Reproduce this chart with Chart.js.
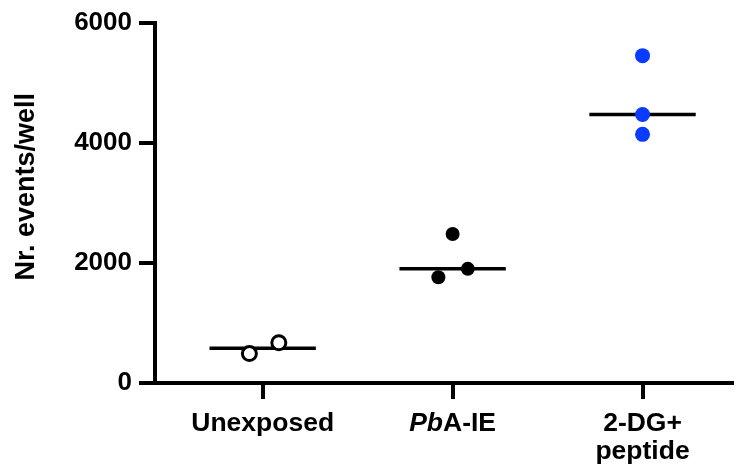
<!DOCTYPE html>
<html>
<head>
<meta charset="utf-8">
<script src="https://cdn.jsdelivr.net/npm/chart.js@4/dist/chart.umd.min.js"></script>
<style>
  body { margin: 0; background: #fff; }
</style>
</head>
<body>
<canvas id="dotChart" width="742" height="472"></canvas>
<script>
// categories and values
const categories = ["Unexposed", "PbA-IE", "2-DG+\npeptide"];
const italicPrefix = ["", "Pb", ""];
const yTicks = [0, 2000, 4000, 6000];
const yTitle = "Nr. events/well";

const unexposedValues = [490, 670];
const unexposedJitter = [-0.07, 0.085];
const pbaValues = [2480, 1760, 1900];
const pbaJitter = [0, -0.075, 0.08];
const dgValues = [5450, 4470, 4140];
const dgJitter = [0, 0, 0];

const FONT = "'Liberation Sans', Arial, sans-serif";
const LABEL_SIZE = 26;

function median(vals) {
  const s = [...vals].sort((a, b) => a - b);
  const m = Math.floor(s.length / 2);
  return s.length % 2 ? s[m] : (s[m - 1] + s[m]) / 2;
}

function toPoints(vals, jitter, idx) {
  return vals.map((v, i) => ({ x: idx + jitter[i], y: v }));
}

function medianLine(vals, idx) {
  const m = median(vals);
  return {
    type: "line",
    data: [{ x: idx - 0.28, y: m }, { x: idx + 0.28, y: m }],
    borderColor: "#000",
    borderWidth: 3.5,
    pointRadius: 0,
    order: 2,
  };
}

// x labels drawn by hand so "Pb" can be italic, plus the y title
const labelPlugin = {
  id: "labels",
  afterDraw(chart) {
    const xs = chart.scales.x;
    const ctx = chart.ctx;
    ctx.save();
    ctx.fillStyle = "#000";
    ctx.textBaseline = "alphabetic";
    ctx.textAlign = "left";
    const ital = "italic bold 26.5px " + FONT;
    const norm = "bold 26.5px " + FONT;
    categories.forEach((cat, i) => {
      const px = xs.getPixelForValue(i);
      cat.split("\n").forEach((line, j) => {
        const y = xs.top + 48 + j * 28;
        const pre = italicPrefix[i] && line.startsWith(italicPrefix[i]) ? italicPrefix[i] : "";
        const rest = line.slice(pre.length);
        ctx.font = ital;
        const w1 = pre ? ctx.measureText(pre).width : 0;
        ctx.font = norm;
        const w2 = ctx.measureText(rest).width;
        let x = px - (w1 + w2) / 2;
        if (pre) {
          ctx.font = ital;
          ctx.fillText(pre, x, y);
          x += w1;
        }
        ctx.font = norm;
        ctx.fillText(rest, x, y);
      });
    });

    // y axis title, sits a little above the plot centre
    const area = chart.chartArea;
    ctx.translate(34, (area.top + area.bottom) / 2 - 16);
    ctx.rotate(-Math.PI / 2);
    ctx.textAlign = "center";
    ctx.font = "bold 27px " + FONT;
    ctx.fillText(yTitle, 0, 0);
    ctx.restore();
  },
};

const ctxDot = document.getElementById("dotChart");
const dotChart = new Chart(ctxDot, {
  type: "scatter",
  data: {
    datasets: [
      {
        data: toPoints(unexposedValues, unexposedJitter, 0),
        pointRadius: 7,
        pointBorderWidth: 3,
        pointBorderColor: "#000",
        pointBackgroundColor: "#fff",
        order: 1,
      },
      {
        data: toPoints(pbaValues, pbaJitter, 1),
        pointRadius: 7,
        pointBorderWidth: 0,
        pointBackgroundColor: "#000",
        order: 1,
      },
      {
        data: toPoints(dgValues, dgJitter, 2),
        pointRadius: 7.5,
        pointBorderWidth: 0,
        pointBackgroundColor: "#0a3cff",
        order: 1,
      },
      medianLine(unexposedValues, 0),
      medianLine(pbaValues, 1),
      medianLine(dgValues, 2),
    ],
  },
  options: {
    responsive: false,
    animation: false,
    layout: { padding: { top: 22, right: 2, left: 0, bottom: 0 } },
    plugins: {
      legend: { display: false },
      tooltip: { enabled: false },
    },
    scales: {
      x: {
        type: "linear",
        min: -0.567,
        max: 2.471,
        afterBuildTicks: (s) => {
          s.ticks = categories.map((c, i) => ({ value: i }));
        },
        afterFit: (s) => {
          s.height = 89;
        },
        ticks: { display: false },
        grid: {
          drawOnChartArea: false,
          drawTicks: true,
          tickLength: 16,
          lineWidth: 4,
          color: "#000",
        },
        border: { display: true, width: 4, color: "#000" },
      },
      y: {
        min: 0,
        max: 6000,
        afterBuildTicks: (s) => {
          s.ticks = yTicks.map((v) => ({ value: v }));
        },
        afterFit: (s) => {
          s.width = 155;
        },
        ticks: {
          color: "#000",
          padding: 7,
          callback: (v) => String(v),
          font: { family: FONT, size: LABEL_SIZE, weight: "bold" },
        },
        grid: {
          drawOnChartArea: false,
          drawTicks: true,
          tickLength: 16,
          lineWidth: 4,
          color: "#000",
        },
        border: { display: true, width: 4, color: "#000" },
      },
    },
  },
  plugins: [labelPlugin],
});
</script>
</body>
</html>
